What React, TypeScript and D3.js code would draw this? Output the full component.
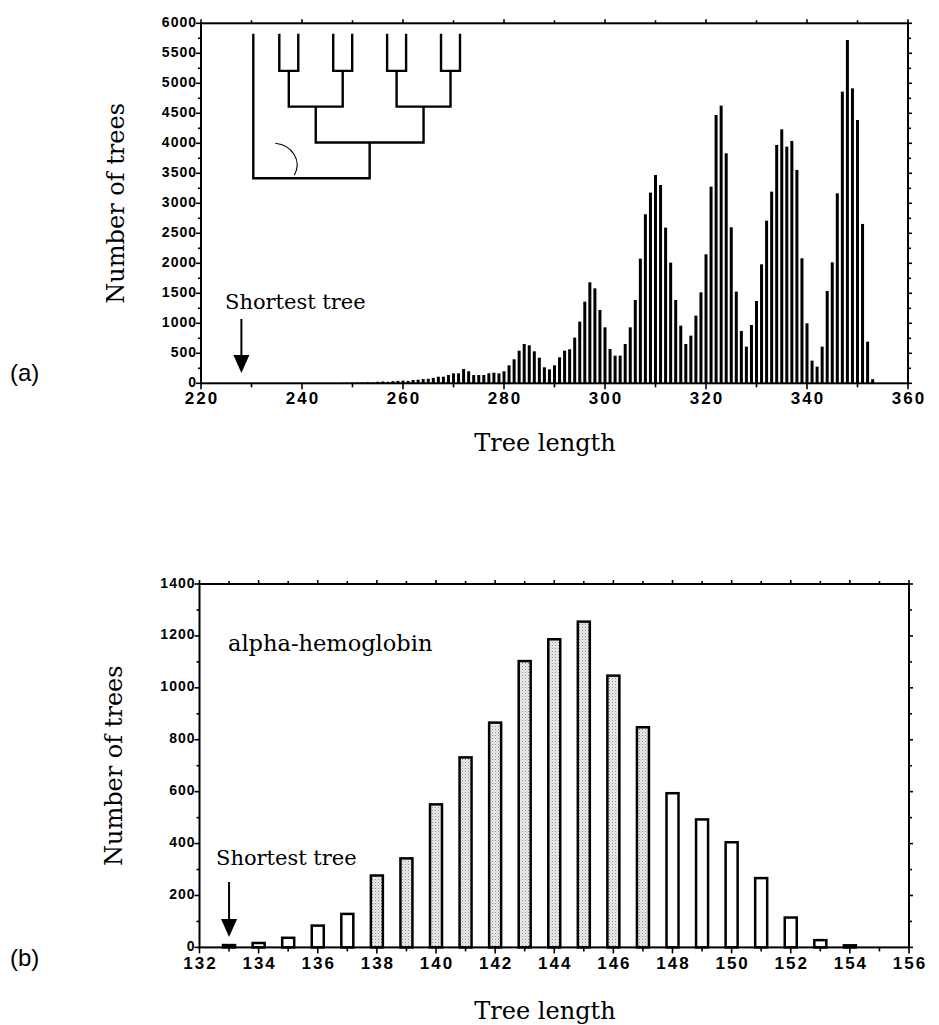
import React, { useEffect, useRef } from 'react'
import * as d3 from 'd3'

const W = 939
const H = 1025

// (a) tree length distribution, one count per length starting at 248
const firstLengthA = 248
const countsA = [
  8, 10, 12, 10, 15, 20, 15, 25, 30, 25,
  35, 40, 45, 40, 55, 60, 70, 75, 90, 110,
  110, 138, 166, 166, 238, 200, 138, 138, 138, 166,
  177, 166, 200, 300, 400, 544, 655, 633, 533, 427,
  267, 233, 300, 433, 544, 567, 761, 1028, 1361, 1683,
  1583, 1222, 933, 572, 461, 461, 655, 933, 1388, 2078,
  2817, 3178, 3472, 3305, 2594, 2011, 1388, 961, 655, 794,
  1128, 1516, 2150, 3278, 4472, 4628, 3833, 2600, 1528, 872,
  611, 972, 1372, 1983, 2711, 3194, 3972, 4233, 3944, 4039,
  3556, 2083, 1000, 378, 278, 611, 1539, 2016, 3166, 4861,
  5722, 4916, 4389, 2656, 694, 67
]
const lengthsA = countsA.map((_, i) => firstLengthA + i)
const shortestA = 228
const xTicksA = [220, 240, 260, 280, 300, 320, 340, 360]
const yTicksA = [0, 500, 1000, 1500, 2000, 2500, 3000, 3500, 4000, 4500, 5000, 5500, 6000]

// (b) alpha-hemoglobin
const lengthsB = [133, 134, 135, 136, 137, 138, 139, 140, 141, 142, 143, 144, 145, 146, 147, 148, 149, 150, 151, 152, 153, 154]
const countsB = [9, 17, 37, 84, 129, 277, 343, 551, 732, 866, 1103, 1187, 1255, 1047, 848, 594, 493, 405, 267, 115, 28, 8]
const shadedB = [138, 139, 140, 141, 142, 143, 144, 145, 146, 147]
const shortestB = 133
const xTicksB = [132, 134, 136, 138, 140, 142, 144, 146, 148, 150, 152, 154, 156]
const yTicksB = [0, 200, 400, 600, 800, 1000, 1200, 1400]

// inset: outgroup + two 4-taxon clades
const insetTree: any = ['out', [[['a', 'b'], ['c', 'd']], [['e', 'f'], ['g', 'h']]]]

const SERIF = '"DejaVu Serif", serif'
const SANS = '"Liberation Sans", Arial, sans-serif'

function drawFrame(g, x, y, o) {
  const [x0, x1] = x.range()
  const [y0, y1] = y.range()
  g.append('rect')
    .attr('x', x0).attr('y', y1)
    .attr('width', x1 - x0).attr('height', y0 - y1)
    .attr('fill', 'none').attr('stroke', '#000').attr('stroke-width', 2)

  const line = (x1_, y1_, x2_, y2_, w = 1.6) =>
    g.append('line')
      .attr('x1', x1_).attr('y1', y1_).attr('x2', x2_).attr('y2', y2_)
      .attr('stroke', '#000').attr('stroke-width', w)

  o.xMinor.forEach(v => {
    const major = o.xTicks.includes(v)
    line(x(v), y0, x(v), y0 + (major ? 6 : 4))
    line(x(v), y1, x(v), y1 - (major ? 4 : 3))
  })
  o.yMinor.forEach(v => {
    const major = o.yTicks.includes(v)
    line(x0, y(v), x0 - (major ? 5 : 3), y(v))
    line(x1, y(v), x1 + (major ? 4 : 3), y(v))
  })

  g.selectAll('.xl').data(o.xTicks).enter().append('text')
    .attr('x', d => x(d) + 1)
    .attr('y', y0 + o.xLabelDy)
    .attr('text-anchor', 'middle')
    .attr('font-family', SANS).attr('font-weight', 'bold')
    .attr('font-size', 17).attr('letter-spacing', 2)
    .text(d => d)

  g.selectAll('.yl').data(o.yTicks).enter().append('text')
    .attr('x', x0 - 4)
    .attr('y', d => y(d) + 3.5)
    .attr('text-anchor', 'end')
    .attr('font-family', SANS).attr('font-weight', 'bold')
    .attr('font-size', 14).attr('letter-spacing', 1)
    .text(d => d)
}

function drawArrow(g, x, yTop, yTip) {
  g.append('line')
    .attr('x1', x).attr('x2', x).attr('y1', yTop).attr('y2', yTip - 16)
    .attr('stroke', '#000').attr('stroke-width', 2)
  g.append('path')
    .attr('d', `M${x - 8},${yTip - 18}L${x + 8},${yTip - 18}L${x},${yTip}Z`)
    .attr('fill', '#000')
}

function label(g, x, y, text, size, family = SERIF) {
  return g.append('text')
    .attr('x', x).attr('y', y)
    .attr('font-family', family).attr('font-size', size)
    .text(text)
}

function drawPanelA(svg) {
  const g = svg.append('g')
  const x = d3.scaleLinear().domain([220, 360]).range([201, 908])
  const y = d3.scaleLinear().domain([0, 6000]).range([383.3, 23.3])

  g.selectAll('.bar').data(countsA).enter().append('rect')
    .attr('x', (_, i) => x(lengthsA[i]) - 1.5)
    .attr('y', d => y(d))
    .attr('width', 3)
    .attr('height', d => y(0) - y(d))
    .attr('fill', '#000')

  drawFrame(g, x, y, {
    xTicks: xTicksA,
    xMinor: d3.range(220, 361, 10),
    yTicks: yTicksA,
    yMinor: d3.range(0, 6001, 250),
    xLabelDy: 21
  })

  // inset tree
  const root = d3.hierarchy(insetTree, d => (Array.isArray(d) ? d : null))
  d3.cluster()
    .nodeSize([1, 1])
    .separation((a, b) => (a.parent === b.parent ? 1 : a.depth === 1 || b.depth === 1 ? 1.37 : 1.84))(root)
  const leaves = root.leaves()
  const tx = d3.scaleLinear().domain(d3.extent(leaves, d => d.x)).range([253.3, 460])
  const ty = d3.scaleLinear().domain([0, d3.max(leaves, d => d.y)]).range([178.3, 35])
  let p = ''
  root.descendants().forEach(n => {
    if (!n.children) return
    const xs = n.children.map(c => tx(c.x))
    p += `M${d3.min(xs)},${ty(n.y)}H${d3.max(xs)}`
    n.children.forEach(c => {
      p += `M${tx(c.x)},${ty(n.y)}V${ty(c.y)}`
    })
  })
  g.append('path').attr('d', p)
    .attr('fill', 'none').attr('stroke', '#000').attr('stroke-width', 2.4)
    .attr('stroke-linecap', 'square')
  const ox = tx(leaves[0].x)
  const oy = ty(root.y)
  g.append('path')
    .attr('d', `M${ox + 22},${oy - 35}C${ox + 39},${oy - 33} ${ox + 49},${oy - 18} ${ox + 41},${oy - 3}`)
    .attr('fill', 'none').attr('stroke', '#000').attr('stroke-width', 1.1)

  label(g, 225, 309, 'Shortest tree', 21)
  drawArrow(g, x(shortestA), 319, 373)

  label(g, 545, 451, 'Tree length', 24).attr('text-anchor', 'middle')
  label(g, 0, 0, 'Number of trees', 24)
    .attr('text-anchor', 'middle')
    .attr('transform', `translate(124,${(y.range()[0] + y.range()[1]) / 2}) rotate(-90)`)
  label(g, 10, 381, '(a)', 24, SANS)
}

function drawPanelB(svg) {
  const g = svg.append('g')
  const x = d3.scaleLinear().domain([132, 156]).range([199.5, 909])
  const y = d3.scaleLinear().domain([0, 1400]).range([947.4, 584])

  const defs = svg.append('defs')
  const pat = defs.append('pattern').attr('id', 'stipple')
    .attr('width', 3).attr('height', 3).attr('patternUnits', 'userSpaceOnUse')
  pat.append('rect').attr('width', 3).attr('height', 3).attr('fill', '#ececec')
  pat.append('rect').attr('width', 1).attr('height', 1).attr('fill', '#8c8c8c')
  pat.append('rect').attr('x', 1.5).attr('y', 1.5).attr('width', 1).attr('height', 1).attr('fill', '#b5b5b5')

  const bw = 12
  g.selectAll('.bar').data(countsB).enter().append('rect')
    .attr('x', (_, i) => x(lengthsB[i]) - bw / 2)
    .attr('y', d => y(d))
    .attr('width', bw)
    .attr('height', d => y(0) - y(d))
    .attr('fill', (_, i) => (shadedB.includes(lengthsB[i]) ? 'url(#stipple)' : '#fff'))
    .attr('stroke', '#000').attr('stroke-width', 2.5)

  drawFrame(g, x, y, {
    xTicks: xTicksB,
    xMinor: d3.range(132, 157, 1),
    yTicks: yTicksB,
    yMinor: d3.range(0, 1401, 100),
    xLabelDy: 22
  })

  label(g, 228, 651, 'alpha-hemoglobin', 22.5)
  label(g, 216, 865, 'Shortest tree', 21)
  drawArrow(g, x(shortestB), 882, 937)

  label(g, 545, 1019, 'Tree length', 24).attr('text-anchor', 'middle')
  label(g, 0, 0, 'Number of trees', 24)
    .attr('text-anchor', 'middle')
    .attr('transform', `translate(122,${(y.range()[0] + y.range()[1]) / 2}) rotate(-90)`)
  label(g, 10, 966, '(b)', 24, SANS)
}

export default function App() {
  const ref = useRef<SVGSVGElement>(null)

  useEffect(() => {
    const svg = d3.select(ref.current)
    svg.selectAll('*').remove()
    drawPanelA(svg)
    drawPanelB(svg)
  }, [])

  return (
    <svg
      ref={ref}
      width={W}
      height={H}
      style={{ position: 'absolute', left: 0, top: 0, background: '#fff' }}
    />
  )
}
